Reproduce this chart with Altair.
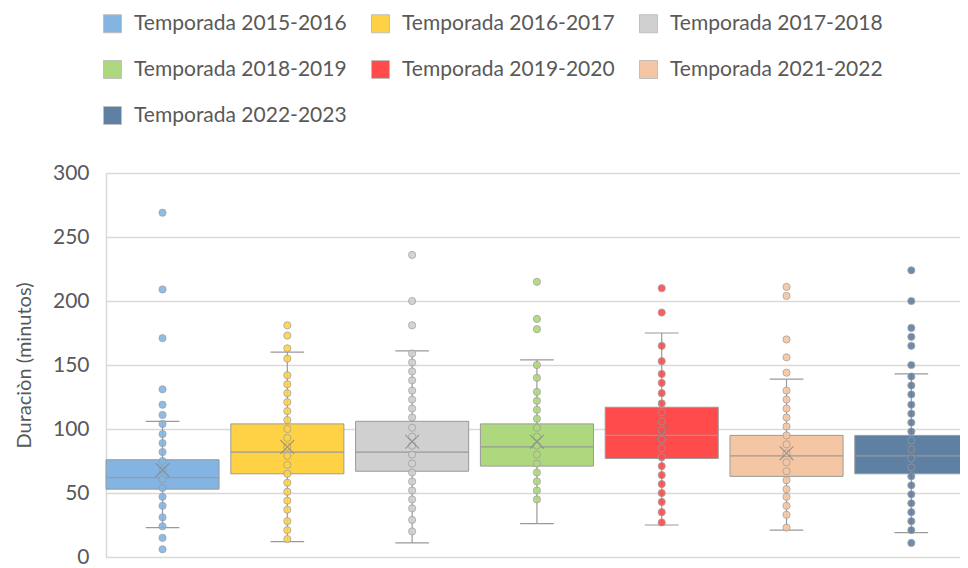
import altair as alt
import pandas as pd

seasons = ["Temporada 2015-2016", "Temporada 2016-2017", "Temporada 2017-2018",
           "Temporada 2018-2019", "Temporada 2019-2020", "Temporada 2021-2022",
           "Temporada 2022-2023"]
colors = ["#83B4E2", "#FFD246", "#D0D0D0", "#ADD87D", "#FF4B4B", "#F5C6A3", "#5E80A3"]

# box statistics (minutes)
q1 = [53, 65, 67, 71, 77, 63, 65]
median = [62, 82, 82, 86, 95, 79, 79]
q3 = [76, 104, 106, 104, 117, 95, 95]
whisker_low = [23, 12, 11, 26, 25, 21, 19]
whisker_high = [106, 160, 161, 154, 175, 139, 143]
mean = [68, 86, 90, 90, 97, 81, 83]

# individual observations (minutes)
points_2015 = [269, 209, 171, 131, 119, 111, 104, 96, 89, 82, 75, 68, 61, 54, 47, 40, 31, 24, 15, 6]
points_2016 = [181, 173, 163, 155, 142, 135, 128, 121, 114, 107, 100, 93, 86, 79, 72, 65, 58, 51, 44, 37, 28, 21, 14]
points_2017 = [236, 200, 181, 159, 152, 145, 138, 130, 123, 116, 109, 101, 94, 87, 80, 73, 66, 59, 52, 45, 38, 29, 20]
points_2018 = [215, 186, 178, 150, 140, 129, 122, 115, 108, 101, 94, 87, 80, 73, 66, 59, 52, 45]
points_2019 = [210, 191, 165, 153, 143, 136, 128, 120, 113, 106, 99, 92, 85, 78, 71, 64, 57, 50, 43, 35, 27]
points_2021 = [211, 204, 170, 156, 144, 130, 123, 116, 109, 102, 95, 88, 81, 74, 67, 60, 53, 47, 40, 33, 23]
points_2022 = [224, 200, 179, 172, 165, 150, 141, 134, 127, 119, 112, 105, 98, 91, 84, 77, 70, 63, 56, 49, 42, 35, 28, 21, 11]
all_points = [points_2015, points_2016, points_2017, points_2018, points_2019, points_2021, points_2022]

box_df = pd.DataFrame({
    "idx": list(range(len(seasons))),
    "season": seasons,
    "q1": q1, "median": median, "q3": q3,
    "lo": whisker_low, "hi": whisker_high, "mean": mean,
})
pts_rows = []
for i, (s, vals) in enumerate(zip(seasons, all_points)):
    for v in vals:
        pts_rows.append({"idx": i, "season": s, "value": v})
pts_df = pd.DataFrame(pts_rows)

HALF = 0.453
CAP = 0.135
xscale = alt.Scale(domain=[-HALF, 6.39], nice=False, zero=False)
yscale = alt.Scale(domain=[0, 300], nice=False)
FONT = "Lato"
TXT = "#595959"
LINE = "#9A9A9A"

color_scale = alt.Scale(domain=seasons, range=colors)

base = alt.Chart(box_df).transform_calculate(
    xl=f"datum.idx - {HALF}", xr=f"datum.idx + {HALF}",
    cl=f"datum.idx - {CAP}", cr=f"datum.idx + {CAP}",
)

yaxis = alt.Axis(values=[0, 50, 100, 150, 200, 250, 300], title="Duraciòn (minutos)",
                 grid=True, gridColor="#D9D9D9", gridWidth=1.5,
                 domainColor="#D9D9D9", domainWidth=1.5, ticks=False,
                 labelPadding=17, labelFontSize=21, labelFont=FONT, labelColor=TXT,
                 titleFontSize=20, titleFont=FONT, titleColor=TXT, titleFontWeight="normal",
                 titlePadding=18)

boxes = base.mark_rect(stroke=LINE, strokeWidth=1).encode(
    x=alt.X("xl:Q", scale=xscale, axis=None),
    x2="xr:Q",
    y=alt.Y("q1:Q", scale=yscale, axis=yaxis),
    y2="q3:Q",
    color=alt.Color("season:N", scale=color_scale, sort=seasons,
                    legend=alt.Legend(title=None, orient="none", legendX=-4, legendY=-160,
                                      direction="horizontal",
                                      columns=3, columnPadding=22, rowPadding=23,
                                      labelFontSize=21, labelFont=FONT, labelColor=TXT,
                                      labelOffset=11, symbolType="square", symbolSize=324,
                                      symbolStrokeColor="#BFBFBF", symbolStrokeWidth=1,
                                      padding=0, labelLimit=400)),
)

medians = base.mark_rule(color=LINE, strokeWidth=1.2).encode(
    x=alt.X("xl:Q", scale=xscale, axis=None), x2="xr:Q",
    y=alt.Y("median:Q", scale=yscale),
)
upper = base.mark_rule(color=LINE, strokeWidth=1.2).encode(
    x=alt.X("idx:Q", scale=xscale, axis=None),
    y=alt.Y("q3:Q", scale=yscale), y2="hi:Q",
)
lower = base.mark_rule(color=LINE, strokeWidth=1.2).encode(
    x=alt.X("idx:Q", scale=xscale, axis=None),
    y=alt.Y("lo:Q", scale=yscale), y2="q1:Q",
)
cap_hi = base.mark_rule(color=LINE, strokeWidth=1.2).encode(
    x=alt.X("cl:Q", scale=xscale, axis=None), x2="cr:Q",
    y=alt.Y("hi:Q", scale=yscale),
)
cap_lo = base.mark_rule(color=LINE, strokeWidth=1.2).encode(
    x=alt.X("cl:Q", scale=xscale, axis=None), x2="cr:Q",
    y=alt.Y("lo:Q", scale=yscale),
)

dots = alt.Chart(pts_df).mark_circle(size=52, opacity=0.9, stroke="#9A9A9A",
                                       strokeWidth=0.8).encode(
    x=alt.X("idx:Q", scale=xscale, axis=None),
    y=alt.Y("value:Q", scale=yscale),
    color=alt.Color("season:N", scale=color_scale, legend=None),
)

means = base.mark_point(shape="M-1,-1L1,1M-1,1L1,-1", size=190, filled=False,
                        color="#808080", strokeWidth=1.2).encode(
    x=alt.X("idx:Q", scale=xscale, axis=None),
    y=alt.Y("mean:Q", scale=yscale),
)

chart = alt.layer(boxes, medians, upper, lower, cap_hi, cap_lo, dots, means).properties(
    width=854, height=384,
    autosize=alt.AutoSizeParams(type="none"),
    padding={"left": 98, "top": 165, "right": 0, "bottom": 11},
).configure_view(stroke=None).configure(background="white")

chart.save("out.html", embed_options={"renderer": "svg", "actions": False})
